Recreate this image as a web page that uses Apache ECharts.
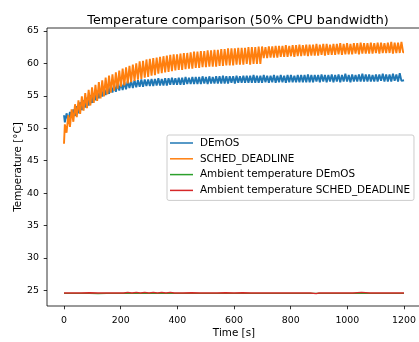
<!DOCTYPE html>
<html>
<head>
<meta charset="utf-8">
<script src="https://cdn.jsdelivr.net/npm/echarts@6/dist/echarts.min.js"></script>
<style>
html,body{margin:0;padding:0;background:#fff;}
#chart{width:419px;height:342px;}
</style>
</head>
<body>
<div id="chart"></div>
<script>
// Sample times (s) for the CPU temperature traces
const timeCpu = [
0,6,12,18,24,30,36,42,48,54,60,66,72,78,84,90,96,102,108,114,
120,126,132,138,144,150,156,162,168,174,180,186,192,198,204,210,216,222,228,234,
240,246,252,258,264,270,276,282,288,294,300,306,312,318,324,330,336,342,348,354,
360,366,372,378,384,390,396,402,408,414,420,426,432,438,444,450,456,462,468,474,
480,486,492,498,504,510,516,522,528,534,540,546,552,558,564,570,576,582,588,594,
600,606,612,618,624,630,636,642,648,654,660,666,672,678,684,690,696,702,708,714,
720,726,732,738,744,750,756,762,768,774,780,786,792,798,804,810,816,822,828,834,
840,846,852,858,864,870,876,882,888,894,900,906,912,918,924,930,936,942,948,954,
960,966,972,978,984,990,996,1002,1008,1014,1020,1026,1032,1038,1044,1050,1056,1062,1068,1074,
1080,1086,1092,1098,1104,1110,1116,1122,1128,1134,1140,1146,1152,1158,1164,1170,1176,1182,1188,1194,
1200];

const demosTemp = [
52.0,50.9,52.3,51.2,52.5,51.6,52.9,51.9,53.4,52.3,
54.0,52.8,54.3,53.2,54.7,53.5,55.1,53.9,55.4,54.3,
55.8,54.6,56.0,54.9,56.2,55.1,56.4,55.3,56.6,55.5,
56.7,55.6,56.9,55.8,57.0,55.9,57.1,56.0,57.3,56.2,
57.3,56.2,57.4,56.3,57.4,56.4,57.5,56.4,57.5,56.5,
57.5,56.5,57.6,56.5,57.6,56.6,57.7,56.6,57.6,56.6,
57.7,56.6,57.7,56.7,57.8,56.7,57.7,56.7,57.8,56.7,
57.8,56.7,57.9,56.8,57.8,56.8,57.9,56.8,57.9,56.8,
57.9,56.8,58.0,56.9,57.9,56.8,58.0,56.9,57.9,56.9,
58.0,56.9,58.0,56.9,58.1,56.9,58.0,56.9,58.0,57.0,
58.0,56.9,58.1,57.0,58.0,57.0,58.1,57.0,58.1,57.0,
58.1,57.0,58.2,57.0,58.1,57.0,58.1,57.0,58.2,57.1,
58.1,57.0,58.1,57.1,58.2,57.0,58.1,57.1,58.2,57.1,
58.1,57.0,58.2,57.1,58.2,57.1,58.1,57.1,58.2,57.1,
58.2,57.1,58.2,57.1,58.3,57.1,58.2,57.1,58.2,57.2,
58.2,57.1,58.3,57.2,58.2,57.1,58.2,57.2,58.3,57.1,
58.2,57.2,58.3,57.1,58.2,57.2,58.4,57.2,58.2,57.1,
58.3,57.2,58.2,57.2,58.3,57.2,58.4,57.2,58.3,57.2,
58.3,57.2,58.2,57.2,58.3,57.2,58.3,57.3,58.4,57.2,
58.3,57.2,58.3,57.2,58.4,57.3,58.3,57.2,58.5,57.3,
57.4];

const schedTemp = [
47.6,50.6,49.3,52.0,50.2,52.9,51.0,53.7,51.7,54.3,
52.2,54.9,52.7,55.4,53.1,55.9,53.5,56.3,53.9,56.7,
54.2,57.1,54.6,57.4,54.9,57.8,55.2,58.1,55.5,58.3,
55.8,58.6,56.1,58.9,56.4,59.2,56.6,59.4,56.9,59.6,
57.1,59.8,57.3,60.0,57.5,60.3,57.6,60.4,57.8,60.6,
57.9,60.7,58.1,60.8,58.2,60.9,58.4,61.0,58.5,61.1,
58.6,61.2,58.7,61.3,58.8,61.4,58.9,61.4,59.0,61.5,
59.0,61.6,59.1,61.6,59.2,61.7,59.2,61.8,59.3,61.8,
59.3,61.9,59.4,61.9,59.4,62.0,59.5,62.0,59.5,62.1,
59.5,62.1,59.6,62.2,59.6,62.2,59.7,62.3,59.7,62.3,
59.7,62.3,59.8,62.4,59.8,62.4,59.8,62.4,59.9,62.5,
59.8,62.5,59.9,62.5,59.9,62.6,59.9,62.6,60.8,62.5,
60.8,62.6,60.9,62.6,60.9,62.7,60.9,62.7,61.0,62.7,
61.0,62.8,61.0,62.7,61.1,62.8,61.0,62.8,61.1,62.9,
61.1,62.8,61.2,62.9,61.1,62.9,61.2,62.9,61.2,63.0,
61.2,62.9,61.3,63.0,61.2,63.0,61.3,62.9,61.3,63.0,
61.3,63.0,61.4,63.1,61.3,63.0,61.4,63.1,61.4,63.0,
61.4,63.1,61.5,63.1,61.4,63.2,61.5,63.1,61.5,63.1,
61.5,63.2,61.5,63.1,61.6,63.2,61.5,63.2,61.6,63.1,
61.6,63.2,61.6,63.3,61.5,63.2,61.6,63.2,61.6,63.3,
61.7];

// Ambient temperature traces
const timeAmbient = [0,30,60,90,120,150,180,210,225,240,255,270,285,300,315,330,345,360,375,390,420,450,480,510,540,570,600,630,660,690,720,750,780,810,840,870,890,900,930,960,990,1020,1050,1080,1110,1140,1170,1200];
const ambientDemos = [24.55,24.55,24.55,24.55,24.5,24.55,24.55,24.55,24.55,24.55,24.55,24.55,24.55,24.55,24.55,24.55,24.55,24.55,24.55,24.55,24.55,24.55,24.55,24.55,24.55,24.55,24.55,24.55,24.55,24.55,24.55,24.55,24.55,24.55,24.55,24.55,24.55,24.55,24.55,24.55,24.55,24.55,24.55,24.55,24.55,24.55,24.55,24.55];
const ambientSched = [24.6,24.6,24.6,24.65,24.6,24.6,24.6,24.6,24.7,24.6,24.7,24.6,24.7,24.6,24.7,24.6,24.7,24.6,24.7,24.6,24.6,24.65,24.6,24.6,24.6,24.65,24.6,24.65,24.6,24.6,24.6,24.6,24.6,24.6,24.6,24.6,24.5,24.6,24.6,24.6,24.6,24.6,24.7,24.6,24.6,24.6,24.6,24.6];

const xTicks = [0,200,400,600,800,1000,1200];
const yTicks = [25,30,35,40,45,50,55,60,65];

const seriesNames = ['DEmOS','SCHED_DEADLINE','Ambient temperature DEmOS','Ambient temperature SCHED_DEADLINE'];
const seriesColors = ['#1f77b4','#ff7f0e','#2ca02c','#d62728'];

function zip(xs, ys){ return xs.map((x,i)=>[x, ys[i]]); }

const FONT = 'DejaVu Sans';
const chart = echarts.init(document.getElementById('chart'), null, {renderer:'canvas'});
const lineSeries = (name, data, color, step, width) => ({
  name, type:'line', data, showSymbol:false, symbol:'none', step: step || false,
  lineStyle:{width:width || 1.4, color}, itemStyle:{color},
  animation:false, silent:true
});

chart.setOption({
  animation:false,
  backgroundColor:'#ffffff',
  title:{
    text:'Temperature comparison (50% CPU bandwidth)',
    left:233, top:9, textAlign:'center',
    textStyle:{fontFamily:FONT, fontSize:12.7, fontWeight:'normal', color:'#000'}
  },
  legend:{
    data:seriesNames.map(n=>({name:n, icon:'rect'})),
    orient:'vertical', left:167, top:135,
    itemWidth:23, itemHeight:1.5, itemGap:3.8,
    padding:[2,4,4,3],
    backgroundColor:'rgba(255,255,255,0.8)',
    borderColor:'#cccccc', borderWidth:1, borderRadius:2,
    textStyle:{fontFamily:FONT, fontSize:10.4, color:'#000', lineHeight:12, padding:[0,0,0,2]},
    selectedMode:false
  },
  grid:{left:47, top:28, width:374, height:278, outerBoundsMode:'none', containLabel:false,
        show:true, borderColor:'#000', borderWidth:0.8, backgroundColor:'transparent'},
  xAxis:{
    type:'value', min:-60, max:1260,
    name:'Time [s]', nameLocation:'middle', nameGap:22, nameMoveOverlap:false,
    nameTextStyle:{fontFamily:FONT, fontSize:10.4, color:'#000'},
    axisLine:{show:false, onZero:false},
    splitLine:{show:false},
    axisTick:{show:true, length:3.3, lineStyle:{color:'#000', width:0.8}, customValues:xTicks},
    axisLabel:{fontFamily:FONT, fontSize:9.4, color:'#000', margin:10, customValues:xTicks, formatter:v=>String(v)}
  },
  yAxis:{
    type:'value', min:22.6, max:65.45,
    name:'Temperature [°C]', nameLocation:'middle', nameGap:24, nameMoveOverlap:false,
    nameTextStyle:{fontFamily:FONT, fontSize:10.4, color:'#000'},
    axisLine:{show:false, onZero:false},
    splitLine:{show:false},
    axisTick:{show:true, length:3.3, lineStyle:{color:'#000', width:0.8}, customValues:yTicks},
    axisLabel:{fontFamily:FONT, fontSize:9.4, color:'#000', margin:8, customValues:yTicks, formatter:v=>String(v)}
  },
  series:[
    lineSeries(seriesNames[0], zip(timeCpu, demosTemp), seriesColors[0], 'middle', 1.9),
    lineSeries(seriesNames[1], zip(timeCpu, schedTemp), seriesColors[1], 'middle', 1.9),
    lineSeries(seriesNames[2], zip(timeAmbient, ambientDemos), seriesColors[2]),
    lineSeries(seriesNames[3], zip(timeAmbient, ambientSched), seriesColors[3])
  ]
});
</script>
</body>
</html>
